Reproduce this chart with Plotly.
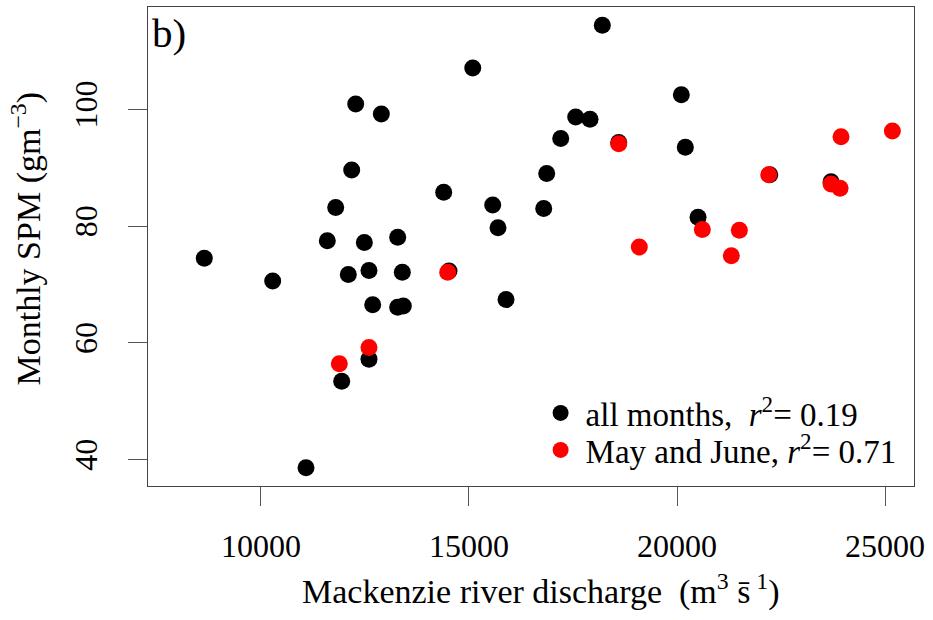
import plotly.graph_objects as go

# All months (black)
all_x = [8637, 10281, 11082, 11594, 11796, 12099, 12180, 12277, 12484, 12596,
         12685, 12893, 13286, 13286, 13397, 13421, 11940, 12596, 14392, 15090,
         15570, 15697, 15890, 16796, 16868, 17205, 17565, 17909, 18205, 20104,
         20200, 20506, 14520, 18599, 22230, 23703]
all_y = [74.5, 70.6, 38.6, 77.5, 83.2, 71.7, 89.6, 100.9, 77.2, 72.4,
         66.5, 99.2, 78.1, 66.1, 72.1, 66.3, 53.4, 57.2, 85.8, 107.1,
         83.6, 79.7, 67.4, 83.0, 89.0, 95.0, 98.7, 98.3, 114.4, 102.5,
         93.5, 81.5, 72.3, 94.3, 88.8, 87.6]

# May and June (red)
mj_x = [11883, 12596, 14488, 19094, 18599, 20609, 21306, 21499, 22205, 23703,
        23919, 23943, 25177]
mj_y = [56.4, 59.2, 72.1, 76.4, 94.1, 79.4, 74.9, 79.3, 88.8, 87.2,
        86.5, 95.3, 96.3]

x_ticks = [10000, 15000, 20000, 25000]
y_ticks = [40, 60, 80, 100]

FONT = "Liberation Serif"

fig = go.Figure()
fig.add_trace(go.Scatter(
    x=all_x, y=all_y, mode="markers",
    marker=dict(color="black", size=17, line=dict(width=0)),
    name="all months,  <i>r</i><sup>2</sup>= 0.19", legend="legend"))
fig.add_trace(go.Scatter(
    x=mj_x, y=mj_y, mode="markers",
    marker=dict(color="#ff0000", size=17, line=dict(width=0)),
    name="May and June, <i>r</i><sup>2</sup>= 0.71", legend="legend2"))

axis_common = dict(
    showgrid=False, zeroline=False,
    showline=True, linecolor="#444444", linewidth=1, mirror=True,
    ticks="outside", ticklen=19, tickcolor="#555555", tickwidth=1,
    tickfont=dict(family=FONT, size=32, color="black"),
)

legend_common = dict(
    xanchor="left", yanchor="middle",
    font=dict(family=FONT, size=33, color="black"), bgcolor="rgba(0,0,0,0)",
    borderwidth=0, itemwidth=40,
)

fig.update_layout(
    width=933, height=620,
    margin=dict(l=148, r=19, t=7, b=134),
    paper_bgcolor="white", plot_bgcolor="white",
    font=dict(family=FONT, color="black"),
    xaxis=dict(range=[7284, 25697], tickvals=x_ticks,
               ticktext=[str(v) for v in x_ticks], ticklabelstandoff=13,
               **axis_common),
    yaxis=dict(range=[35.46, 117.54], tickvals=y_ticks,
               ticktext=[str(v) for v in y_ticks], tickangle=-90,
               ticklabelstandoff=18,
               **axis_common),
    legend=dict(x=0.506, y=0.1524, **legend_common),
    legend2=dict(x=0.506, y=0.0752, **legend_common),
    showlegend=True,
    annotations=[
        dict(text="b)", x=0.0, y=1.0, xref="paper", yref="paper",
             xanchor="left", yanchor="top", xshift=2, yshift=-1,
             showarrow=False, font=dict(family=FONT, size=41)),
        dict(text="Mackenzie river discharge  (m<sup>3</sup> s\u0304<sup> 1</sup>)",
             x=0.5, y=0, xref="paper", yref="paper", xanchor="center",
             yanchor="middle", xshift=10, yshift=-103, showarrow=False,
             font=dict(family=FONT, size=34)),
        dict(text="Monthly SPM (gm<sup>\u22123</sup>)",
             x=0, y=0.5, xref="paper", yref="paper", xanchor="center",
             yanchor="middle", xshift=-122, yshift=8, textangle=-90,
             showarrow=False, font=dict(family=FONT, size=34)),
    ],
)

fig.write_html("out.html")
